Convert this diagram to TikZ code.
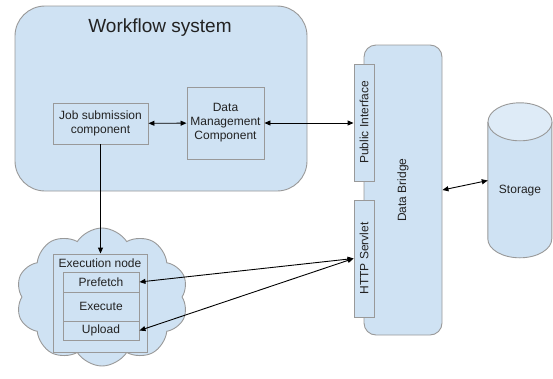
\documentclass[tikz,border=0pt]{standalone}
\usepackage{fontspec}
\setmainfont{Liberation Sans}
\usetikzlibrary{arrows.meta,shapes.symbols}
\definecolor{paleblue}{HTML}{CFE2F3}
\definecolor{capblue}{HTML}{DEEBF7}
\definecolor{edgegray}{HTML}{999999}
\definecolor{inkgray}{HTML}{222222}
\begin{document}
\begin{tikzpicture}[x=1pt,y=-1pt,
  every node/.style={font=\fontsize{12}{14}\selectfont, text=inkgray},
  box/.style={draw=edgegray, fill=paleblue, line width=0.9pt, inner sep=0pt, align=center},
  tip/.tip={Triangle[length=6pt,width=5pt]},
  link/.style={draw=black, line width=0.9pt, tip-tip},
  oneway/.style={draw=black, line width=0.9pt, -tip},
]
\useasboundingbox (0,0) rectangle (553,378);

% workflow system
\node[box, rounded corners=30pt, minimum width=292pt, minimum height=185pt] (wf) at (161,98.5) {};
\node[font=\fontsize{19}{22}\selectfont] (wftitle) at (160,28) {Workflow system};
\node[box, minimum width=95pt, minimum height=41pt] (job) at (100.5,123.5) {Job submission\\component};
\node[box, minimum width=77pt, minimum height=72pt] (dm) at (225.5,123) {Data\\Management\\Component};

% data bridge with its two interfaces
\node[box, rounded corners=12pt, minimum width=78pt, minimum height=290pt] (bridge) at (403,190) {};
\node[rotate=90] (bridgelabel) at (403,190) {Data Bridge};
\node[box, minimum width=20pt, minimum height=117pt] (public) at (364,122.5) {};
\node[rotate=90] (publiclabel) at (public.center) {Public Interface};
\node[box, minimum width=20pt, minimum height=117pt] (http) at (364,258.5) {};
\node[rotate=90] (httplabel) at (http.center) {HTTP Servlet};

% storage cylinder
\node[minimum width=64pt, minimum height=155pt, inner sep=0pt] (storage) at (520,180.5) {};
\filldraw[draw=edgegray, fill=paleblue, line width=0.9pt]
  (storage.north west) ++(0,19) -- ++(0,117)
  arc[start angle=180, end angle=0, x radius=32, y radius=19] -- ++(0,-117);
\filldraw[draw=edgegray, fill=capblue, line width=0.9pt]
  (storage.north) ++(0,19) ellipse [x radius=32, y radius=19];
\node (storagelabel) at (520,191) {Storage};

% execution node in the cloud
\node[cloud, cloud puffs=10, cloud puff arc=115, aspect=1.25, draw=edgegray, fill=paleblue, line width=0.9pt,
  minimum width=172pt, minimum height=138pt] (cloud) at (102,297) {};
\node[box, minimum width=94pt, minimum height=98pt] (exec) at (100,303) {};
\node (execlabel) at (100,263) {Execution node};
\node[box, minimum width=76pt, minimum height=20pt] (prefetch) at (101,282) {Prefetch};
\node[box, minimum width=76pt, minimum height=29pt] (execute) at (101,306.5) {Execute};
\node[box, minimum width=76pt, minimum height=19pt] (upload) at (101,330.5) {Upload};

% connectors
\draw[link] (job) -- (dm);
\draw[link] (dm.east) -- (dm.east -| public.west);
\draw[oneway] (job.south) -- (job.south |- exec.north);
\draw[link] (http.west) -- (prefetch.east);
\draw[link] (http.west) -- (upload.east);
\draw[link] (bridge.east) -- (storage.west);
\end{tikzpicture}
\end{document}
